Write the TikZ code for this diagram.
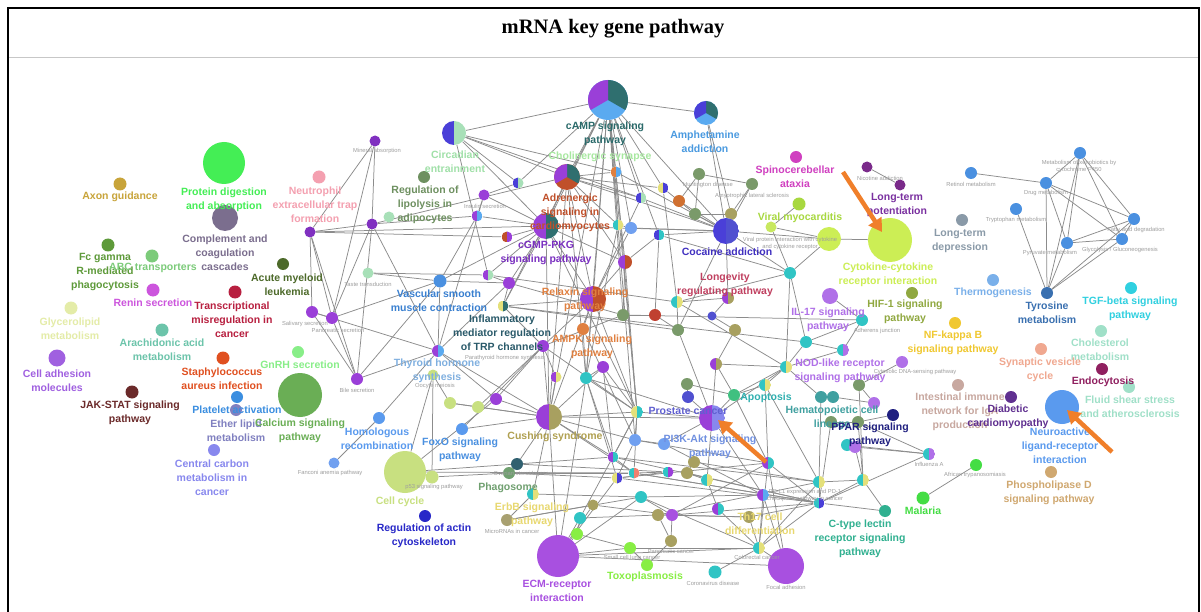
\documentclass[tikz,border=0pt]{standalone}
\usepackage{fontspec}
\setmainfont{Liberation Sans}
\newfontfamily\titlefont{Liberation Serif}
\usetikzlibrary{arrows.meta}
\pgfdeclarelayer{bg}
\pgfsetlayers{bg,main}
% pie colours
\definecolor{pu}{HTML}{9A3FD8}
\definecolor{te}{HTML}{2F6F6F}
\definecolor{lb}{HTML}{5AAAF0}
\definecolor{bl}{HTML}{4A3FD8}
\definecolor{lg}{HTML}{A8E0B8}
\definecolor{br}{HTML}{C0502A}
\definecolor{ol}{HTML}{A8A060}
\definecolor{sg}{HTML}{7A9A6A}
\definecolor{cy}{HTML}{30C4C4}
\definecolor{yl}{HTML}{E4E07A}
\definecolor{yg}{HTML}{C8E860}
\definecolor{lil}{HTML}{B070E8}
\definecolor{arrowc}{HTML}{F07F2A}
% label colours
\definecolor{kAxon}{HTML}{C8A43A}
\definecolor{kProt}{HTML}{44EE55}
\definecolor{kCompl}{HTML}{7B6E8E}
\definecolor{kFcg}{HTML}{5E9A3A}
\definecolor{kAbc}{HTML}{7CCB7A}
\definecolor{kRenin}{HTML}{CC55DD}
\definecolor{kTransc}{HTML}{B82040}
\definecolor{kAml}{HTML}{4D6A2A}
\definecolor{kGlyc}{HTML}{E4ECA8}
\definecolor{kArach}{HTML}{6CC4AA}
\definecolor{kCell}{HTML}{A060E0}
\definecolor{kStaph}{HTML}{E05020}
\definecolor{kGnrh}{HTML}{88EE88}
\definecolor{kJak}{HTML}{6B2A2A}
\definecolor{kPlat}{HTML}{3B8EE0}
\definecolor{kEther}{HTML}{8080C0}
\definecolor{kCalc}{HTML}{6AAE55}
\definecolor{kCcarb}{HTML}{8888EE}
\definecolor{kNeut}{HTML}{F4A0B0}
\definecolor{kCirc}{HTML}{A0E0A8}
\definecolor{kLipol}{HTML}{6E9060}
\definecolor{kCamp}{HTML}{2A6A6A}
\definecolor{kChsyn}{HTML}{A8E8A0}
\definecolor{kAmph}{HTML}{4A9AE0}
\definecolor{kAdren}{HTML}{C0502A}
\definecolor{kCgmp}{HTML}{7A30C0}
\definecolor{kSpino}{HTML}{D040C0}
\definecolor{kLtp}{HTML}{7A30A0}
\definecolor{kViral}{HTML}{A8D840}
\definecolor{kCoca}{HTML}{4030C0}
\definecolor{kLtd}{HTML}{8A9AA8}
\definecolor{kCyto}{HTML}{CCEE55}
\definecolor{kLongev}{HTML}{C04060}
\definecolor{kRelax}{HTML}{E08040}
\definecolor{kVasc}{HTML}{3A80D0}
\definecolor{kInfl}{HTML}{2A5A6A}
\definecolor{kThyr}{HTML}{80B0E0}
\definecolor{kHif}{HTML}{90A840}
\definecolor{kThermo}{HTML}{7AB0EA}
\definecolor{kTyro}{HTML}{3A70B0}
\definecolor{kTgf}{HTML}{30D0E0}
\definecolor{kNfkb}{HTML}{F0C830}
\definecolor{kCholm}{HTML}{A0E0C8}
\definecolor{kSynv}{HTML}{F0A890}
\definecolor{kEndo}{HTML}{902060}
\definecolor{kApop}{HTML}{30B0B0}
\definecolor{kApopN}{HTML}{40C080}
\definecolor{kHema}{HTML}{40A0A0}
\definecolor{kPpar}{HTML}{202080}
\definecolor{kIntest}{HTML}{C8A8A0}
\definecolor{kDiab}{HTML}{603090}
\definecolor{kNeuro}{HTML}{5A9AEE}
\definecolor{kPros}{HTML}{6060D0}
\definecolor{kPi3k}{HTML}{7090E0}
\definecolor{kFoxo}{HTML}{4A90E0}
\definecolor{kCush}{HTML}{B0A050}
\definecolor{kCcyc}{HTML}{C8E080}
\definecolor{kActin}{HTML}{2828C8}
\definecolor{kPhag}{HTML}{70A070}
\definecolor{kErbb}{HTML}{E8D870}
\definecolor{kErbbN}{HTML}{A8A070}
\definecolor{kEcm}{HTML}{A850E0}
\definecolor{kToxo}{HTML}{88EE44}
\definecolor{kCtype}{HTML}{30B090}
\definecolor{kMal}{HTML}{44DD44}
\definecolor{kPld}{HTML}{D0A870}
\definecolor{kXeno}{HTML}{4A90E0}
\definecolor{kBlue2}{HTML}{5050D0}
\definecolor{kLblue2}{HTML}{70A0F0}
\definecolor{kDteal}{HTML}{306070}
\definecolor{kRust}{HTML}{C04030}
\definecolor{kOrg}{HTML}{D07030}
\definecolor{kPink}{HTML}{F08070}
\definecolor{kDpur}{HTML}{7A2A8A}
\definecolor{kMpur}{HTML}{8030C0}
\tikzset{
  nd/.style={circle, inner sep=0pt, minimum size=11pt, fill=#1},
  pieLR/.style 2 args={path picture={
      \fill[#1] (path picture bounding box.south west) rectangle (path picture bounding box.north);
      \fill[#2] (path picture bounding box.south east) rectangle (path picture bounding box.north);}},
  pieT/.style n args={3}{path picture={
      \fill[#1] (path picture bounding box.center) circle (30pt);
      \fill[#2] (path picture bounding box.center) -- +(-30:40pt) -- +(30:40pt) -- +(90:40pt) -- cycle;
      \fill[#3] (path picture bounding box.center) -- +(90:40pt) -- +(150:40pt) -- +(210:40pt) -- cycle;}},
  lab/.style={font=\bfseries\fontsize{10.5}{14}\selectfont, align=center, inner sep=0pt},
  sl/.style={font=\fontsize{5.8}{7}\selectfont, text=black!38, align=center, inner sep=0pt},
  lnk/.style={draw=black!45, line width=0.75pt},
  hl/.style={draw=arrowc, line width=4.5pt, -{Triangle[length=13pt,width=15pt]}},
}
\begin{document}
\begin{tikzpicture}[x=1pt,y=-1pt]
\useasboundingbox (0,0) rectangle (1201,612);
\begin{pgfonlayer}{bg}
\fill[white] (0,0) rectangle (1201,612);
\end{pgfonlayer}
% frame and title
\draw[line width=2pt] (8,625) -- (8,8) -- (1199,8) -- (1199,625);
\draw[black!22, line width=0.8pt] (9,57) -- (1198,57);
\node[font=\titlefont\bfseries\fontsize{20.5}{24}\selectfont] (title) at (613,29) {mRNA key gene pathway};

% ---------------- nodes: left ----------------
\node[nd=kAxon, minimum size=13pt] (axon) at (120,184) {};
\node[nd=kProt, minimum size=42pt] (prot) at (224,163) {};
\node[nd=kCompl, minimum size=26pt] (compl) at (225,218) {};
\node[nd=kFcg, minimum size=13pt] (fcg) at (108,245) {};
\node[nd=kAbc, minimum size=13pt] (abc) at (152,256) {};
\node[nd=kRenin, minimum size=13pt] (renin) at (153,290) {};
\node[nd=kTransc, minimum size=13pt] (transc) at (235,292) {};
\node[nd=kAml, minimum size=12pt] (aml) at (283,264) {};
\node[nd=kGlyc, minimum size=13pt] (glyc) at (71,308) {};
\node[nd=kArach, minimum size=13pt] (arach) at (162,330) {};
\node[nd=kCell, minimum size=17pt] (celladh) at (57,358) {};
\node[nd=kStaph, minimum size=13pt] (staph) at (223,358) {};
\node[nd=kGnrh, minimum size=12pt] (gnrh) at (298,352) {};
\node[nd=kJak, minimum size=13pt] (jak) at (132,392) {};
\node[nd=kPlat, minimum size=12pt] (plat) at (237,397) {};
\node[nd=kEther, minimum size=12pt] (ether) at (236,410) {};
\node[nd=kCalc, minimum size=44pt] (calc) at (300,395) {};
\node[nd=kCcarb, minimum size=12pt] (ccarb) at (214,450) {};

% ---------------- nodes: upper left network ----------------
\node[nd=kNeut, minimum size=13pt] (neut) at (319,177) {};
\node[nd=kMpur] (mineral) at (375,141) {};
\node[nd=white, minimum size=24pt, pieLR={bl}{lg}] (circ) at (454,133) {};
\node[nd=kLipol, minimum size=12pt] (lipol) at (424,177) {};
\node[nd=lg] (b5) at (389,217) {};
\node[nd=kMpur] (b6) at (310,232) {};
\node[nd=kMpur] (b7) at (372,224) {};

% ---------------- nodes: top centre ----------------
\node[nd=white, minimum size=40pt, pieT={lb}{te}{pu}] (camp) at (608,100) {};
\node[nd=white, minimum size=24pt, pieT={lb}{te}{bl}] (amph) at (706,113) {};
\node[nd=white, minimum size=26pt, pieT={br}{te}{pu}] (adren) at (567,177) {};
\node[nd=white, minimum size=26pt, pieLR={pu}{te}] (cgmp) at (546,226) {};
\node[nd=white, pieLR={bl}{lg}] (c5) at (518,183) {};
\node[nd=pu] (c6) at (484,195) {};
\node[nd=white, pieLR={pu}{lb}] (c7) at (477,216) {};
\node[nd=white, pieLR={br}{pu}] (c8) at (507,237) {};
\node[nd=white, pieLR={kRelax}{lb}] (c9) at (616,172) {};
\node[nd=white, pieLR={bl}{lg}] (c10) at (641,198) {};
\node[nd=white, pieLR={yl}{bl}] (c11) at (663,188) {};
\node[nd=kOrg, minimum size=12pt] (c12) at (679,201) {};
\node[nd=sg, minimum size=12pt] (hunt) at (699,174) {};
\node[nd=sg, minimum size=12pt] (als) at (752,184) {};
\node[nd=sg, minimum size=12pt] (c15) at (695,214) {};
\node[nd=ol, minimum size=12pt] (c16) at (731,214) {};
\node[nd=white, minimum size=26pt, pieLR={bl}{kBlue2}] (coca) at (726,231) {};
\node[nd=kLblue2, minimum size=12pt] (c18) at (631,228) {};
\node[nd=white, pieLR={cy}{yl}] (c19) at (618,225) {};
\node[nd=white, pieLR={bl}{cy}] (c20) at (659,235) {};
\node[nd=yg] (c21) at (771,227) {};
\node[nd=kViral, minimum size=13pt] (viral) at (799,204) {};
\node[nd=kCyto, minimum size=24pt] (c23) at (829,239) {};
\node[nd=kCyto, minimum size=44pt] (cyto) at (890,240) {};
\node[nd=kSpino, minimum size=12pt] (spino) at (796,157) {};
\node[nd=kDpur] (nic) at (867,167) {};
\node[nd=kDpur] (ltp) at (900,185) {};

% ---------------- nodes: middle ----------------
\node[nd=white, minimum size=14pt, pieLR={pu}{br}] (c29) at (625,262) {};
\node[nd=white, minimum size=26pt, pieLR={pu}{br}] (relax) at (593,299) {};
\node[nd=kRelax, minimum size=12pt] (ampk) at (583,329) {};
\node[nd=white, pieLR={pu}{lg}] (c32) at (488,275) {};
\node[nd=pu, minimum size=12pt] (c33) at (509,283) {};
\node[nd=white, pieLR={yl}{te}] (c34) at (503,306) {};
\node[nd=pu, minimum size=12pt] (c35) at (543,346) {};
\node[nd=kFoxo, minimum size=13pt] (vasc) at (440,281) {};
\node[nd=white, minimum size=12pt, pieLR={pu}{lb}] (thyr) at (438,351) {};
\node[nd=kCcyc] (c38) at (433,375) {};
\node[nd=lg] (taste) at (368,273) {};
\node[nd=pu, minimum size=12pt] (saliv) at (312,312) {};
\node[nd=pu, minimum size=12pt] (panc) at (332,318) {};
\node[nd=pu, minimum size=12pt] (bile) at (357,379) {};
\node[nd=kCcyc, minimum size=12pt] (c43) at (450,403) {};
\node[nd=kCcyc, minimum size=12pt] (c44) at (478,407) {};
\node[nd=pu, minimum size=12pt] (c45) at (496,399) {};
\node[nd=white, minimum size=26pt, pieLR={pu}{ol}] (cush) at (549,417) {};
\node[nd=cy, minimum size=12pt] (c47) at (586,378) {};
\node[nd=white, pieLR={pu}{yl}] (c48) at (556,377) {};
\node[nd=kNeuro, minimum size=12pt] (homol) at (379,418) {};
\node[nd=kNeuro, minimum size=12pt] (foxo) at (462,429) {};
\node[nd=kCcyc, minimum size=42pt] (ccyc) at (405,472) {};
\node[nd=kCcyc, minimum size=13pt] (p53) at (432,477) {};
\node[nd=kLblue2] (fanc) at (334,463) {};
\node[nd=kActin, minimum size=12pt] (actin) at (425,516) {};
\node[nd=kPhag, minimum size=12pt] (phag) at (509,473) {};
\node[nd=kDteal, minimum size=12pt] (c56) at (517,464) {};
\node[nd=white, minimum size=12pt, pieLR={cy}{yl}] (c57) at (533,494) {};
\node[nd=kErbbN, minimum size=12pt] (erbb) at (507,520) {};
\node[nd=cy, minimum size=12pt] (c59) at (580,518) {};
\node[nd=kToxo, minimum size=12pt] (c60) at (577,534) {};
\node[nd=ol] (c61) at (593,505) {};
\node[nd=kEcm, minimum size=42pt] (ecm) at (558,556) {};

% ---------------- nodes: lower centre ----------------
\node[nd=kToxo, minimum size=12pt] (toxo) at (647,565) {};
\node[nd=kToxo, minimum size=12pt] (c64) at (630,548) {};
\node[nd=cy, minimum size=13pt] (corona) at (715,572) {};
\node[nd=kEcm, minimum size=36pt] (focal) at (786,566) {};
\node[nd=white, minimum size=12pt, pieLR={cy}{yl}] (colo) at (759,548) {};
\node[nd=ol, minimum size=12pt] (pancc) at (671,541) {};
\node[nd=cy, minimum size=12pt] (c69) at (641,497) {};
\node[nd=kEcm, minimum size=12pt] (c70) at (672,515) {};
\node[nd=ol, minimum size=12pt] (c71) at (658,515) {};
\node[nd=ol, minimum size=12pt] (c72) at (749,517) {};
\node[nd=white, minimum size=12pt, pieLR={pu}{cy}] (c73) at (718,509) {};
\node[nd=ol, minimum size=12pt] (c74) at (694,462) {};
\node[nd=ol, minimum size=12pt] (c75) at (687,473) {};
\node[nd=white, minimum size=12pt, pieLR={cy}{yl}] (c76) at (707,480) {};
\node[nd=white, minimum size=12pt, pieLR={pu}{cy}] (c77) at (768,463) {};
\node[nd=white, minimum size=12pt, pieLR={pu}{lb}] (c78) at (763,495) {};
\node[nd=white, pieLR={cy}{bl}] (c79) at (819,503) {};
\node[nd=white, minimum size=12pt, pieLR={cy}{yl}] (c80) at (819,482) {};
\node[nd=white, minimum size=12pt, pieLR={cy}{yl}] (c81) at (863,480) {};
\node[nd=kCtype, minimum size=12pt] (ctype) at (885,511) {};
\node[nd=white, minimum size=26pt, pieLR={pu}{kCcarb}] (pros) at (712,418) {};
\node[nd=white, minimum size=12pt, pieLR={yl}{cy}] (c84) at (637,412) {};
\node[nd=kBlue2, minimum size=12pt] (c85) at (688,397) {};
\node[nd=kLblue2, minimum size=12pt] (c86) at (635,440) {};
\node[nd=kLblue2, minimum size=12pt] (c87) at (664,444) {};
\node[nd=white, pieLR={pu}{cy}] (c88) at (613,457) {};
\node[nd=white, pieLR={cy}{kPink}] (c89) at (634,473) {};
\node[nd=white, pieLR={cy}{pu}] (c90) at (668,472) {};
\node[nd=white, pieLR={yl}{bl}] (c91) at (617,478) {};

% ---------------- nodes: right middle ----------------
\node[nd=cy, minimum size=12pt] (d1) at (790,273) {};
\node[nd=lil, minimum size=16pt] (il17) at (830,296) {};
\node[nd=cy, minimum size=12pt] (d3) at (862,320) {};
\node[nd=cy, minimum size=12pt] (d4) at (806,342) {};
\node[nd=white, minimum size=12pt, pieLR={cy}{lil}] (d5) at (843,350) {};
\node[nd=white, minimum size=12pt, pieLR={cy}{yl}] (nod) at (786,367) {};
\node[nd=kApopN, minimum size=12pt] (apop) at (734,395) {};
\node[nd=white, minimum size=12pt, pieLR={cy}{yl}] (d8) at (765,385) {};
\node[nd=sg, minimum size=12pt] (d9) at (687,384) {};
\node[nd=white, minimum size=12pt, pieLR={pu}{ol}] (d10) at (716,364) {};
\node[nd=ol, minimum size=12pt] (d11) at (735,330) {};
\node[nd=sg, minimum size=12pt] (d12) at (678,330) {};
\node[nd=kRust, minimum size=12pt] (d13) at (655,315) {};
\node[nd=sg, minimum size=12pt] (d14) at (623,315) {};
\node[nd=white, minimum size=12pt, pieLR={cy}{yl}] (d15) at (677,302) {};
\node[nd=white, minimum size=12pt, pieLR={pu}{ol}] (d16) at (728,298) {};
\node[nd=kBlue2, minimum size=9pt] (d17) at (712,316) {};
\node[nd=pu, minimum size=12pt] (d18) at (603,367) {};
\node[nd=lil, minimum size=12pt] (d19) at (874,403) {};
\node[nd=kHema, minimum size=12pt] (d20) at (821,397) {};
\node[nd=kHema, minimum size=12pt] (d20b) at (833,397) {};
\node[nd=sg, minimum size=12pt] (d21) at (859,385) {};
\node[nd=lil, minimum size=12pt] (d22) at (902,362) {};
\node[nd=sg, minimum size=12pt] (d23) at (831,422) {};
\node[nd=sg, minimum size=12pt] (d24) at (858,422) {};
\node[nd=cy, minimum size=12pt] (d25) at (847,445) {};
\node[nd=lil, minimum size=12pt] (d26) at (855,447) {};
\node[nd=kPpar, minimum size=12pt] (ppar) at (893,415) {};
\node[nd=white, minimum size=12pt, pieLR={cy}{lil}] (infl) at (929,454) {};
\node[nd=kMal, minimum size=12pt] (afr) at (976,465) {};
\node[nd=kMal, minimum size=13pt] (mal) at (923,498) {};

% ---------------- nodes: right ----------------
\node[nd=kXeno, minimum size=12pt] (xeno) at (1080,153) {};
\node[nd=kXeno, minimum size=12pt] (retinol) at (971,173) {};
\node[nd=kXeno, minimum size=12pt] (drug) at (1046,183) {};
\node[nd=kXeno, minimum size=12pt] (tryp) at (1016,209) {};
\node[nd=kXeno, minimum size=12pt] (fatty) at (1134,219) {};
\node[nd=kXeno, minimum size=12pt] (glyco) at (1122,239) {};
\node[nd=kXeno, minimum size=12pt] (pyr) at (1067,243) {};
\node[nd=kTyro, minimum size=12pt] (tyro) at (1047,293) {};
\node[nd=kLtd, minimum size=12pt] (ltd) at (962,220) {};
\node[nd=kThermo, minimum size=12pt] (thermo) at (993,280) {};
\node[nd=kTgf, minimum size=12pt] (tgf) at (1131,288) {};
\node[nd=kHif, minimum size=12pt] (hif) at (912,293) {};
\node[nd=kNfkb, minimum size=12pt] (nfkb) at (955,323) {};
\node[nd=kCholm, minimum size=12pt] (chol) at (1101,331) {};
\node[nd=kSynv, minimum size=12pt] (synv) at (1041,349) {};
\node[nd=kEndo, minimum size=12pt] (endo) at (1102,369) {};
\node[nd=kIntest, minimum size=12pt] (intest) at (958,385) {};
\node[nd=kDiab, minimum size=12pt] (diab) at (1011,397) {};
\node[nd=kNeuro, minimum size=34pt] (neuro) at (1062,407) {};
\node[nd=kCholm, minimum size=12pt] (fluid) at (1129,387) {};
\node[nd=kPld, minimum size=12pt] (pld) at (1051,472) {};

% ---------------- edges ----------------
\begin{pgfonlayer}{bg}
\foreach \a/\b in {mineral/b6, mineral/b7, mineral/panc, b6/b7, b6/saliv, b6/panc, b6/bile, b7/panc, b7/bile, b7/thyr,
  b6/c8, b6/cgmp, b7/c7, b7/adren, saliv/panc, saliv/bile, saliv/thyr, panc/bile, panc/vasc, bile/vasc, bile/thyr,
  taste/c32, taste/vasc, circ/camp, circ/adren, circ/c5, circ/c9, circ/cgmp, circ/c32, circ/c10,
  c5/c6, c5/camp, c6/c7, c6/cgmp, c7/cgmp, c8/cgmp, c7/vasc, c6/thyr,
  camp/amph, camp/adren, camp/cgmp, camp/c9, camp/c10, camp/c11, camp/c18, camp/coca, camp/c29, camp/relax,
  camp/c20, camp/c34, camp/cush, camp/c84, camp/c19, amph/coca, amph/c16,
  adren/cgmp, adren/c9, adren/c10, adren/c11, adren/coca, adren/c29, adren/relax, adren/cush, adren/c19,
  cgmp/c32, cgmp/c33, cgmp/relax, cgmp/coca, cgmp/cush, cgmp/vasc, cgmp/c29, cgmp/c34,
  hunt/als, hunt/c15, hunt/c12, als/c16, als/coca, c15/c16, c15/coca, c16/coca, c12/coca, c11/c15, c10/coca,
  c9/coca, c18/coca, c19/c18, c20/coca, c20/c29, coca/c23, c21/c23, c23/cyto, c21/d1, coca/d1, nic/ltp,
  d1/d4, d1/c20, d1/d15, d1/nod, il17/d3, d3/d4, d3/d5, d4/d5, d4/nod, d5/nod, nod/apop, nod/d8, nod/d10,
  nod/d15, nod/pros, vasc/thyr, vasc/c33, thyr/c33, thyr/c45, thyr/cush, thyr/homol, c33/c34, c32/c33,
  c34/c35, c34/relax, c38/ccyc, c38/p53, c38/c43, c43/c44, c43/cush, c44/cush, c45/cush, c44/c35, c45/c35,
  c35/cush, c35/relax, homol/fanc, foxo/cush, foxo/c35, ccyc/p53, ccyc/c56, ccyc/c45, p53/phag,
  phag/c56, c56/cush, c57/cush, c57/erbb, erbb/c61, c56/c88, c59/c60, c60/ecm, c61/ecm, c59/ecm, ecm/c64,
  ecm/focal, ecm/colo, ecm/c47, ecm/cush, c59/c84, toxo/c64, toxo/pancc, c64/colo, corona/colo, focal/colo,
  focal/c77, focal/c78, colo/c77, colo/c78, colo/c73, colo/c72, colo/c79, colo/c80, colo/c69,
  pancc/c70, pancc/c71, c69/c70, c70/c72, c71/c72, c73/c76, c74/c75, c75/c76, c76/pros, c77/pros, c78/pros,
  c77/c79, c79/c80, c79/c81, c80/c81, c81/ctype, c79/ctype, c79/infl, c79/c88, c79/c91, c79/c70, c79/c72,
  c79/c89, pros/c85, pros/c84, pros/apop, pros/d10, pros/cush, pros/c47, pros/d12, pros/c87,
  c84/c88, c84/c89, c84/cush, c84/c47, c84/relax, c84/c86, c85/d9, c86/c87, c88/c89, c89/c90, c90/c91,
  c91/c86, relax/c29, relax/ampk, relax/c47, ampk/c47, c29/d14, d14/d13, d13/d12, d12/d15, d15/d16,
  d16/d17, d17/d11, d11/d10, d10/apop, d9/apop, d8/apop, d8/c77, d18/c47, d18/c84, d18/cush,
  d20/d20b, d20/nod, d21/d19, d23/d24, d25/d26, d25/infl, d26/infl, infl/d24, afr/mal,
  d3/d14, d4/c34, d22/d21, d19/d20b, ccyc/c89, c56/c90, phag/c91, c48/cush, c48/c35,
  camp/c86, camp/c47, camp/d14, adren/c47, cgmp/c84, c9/c84, c10/relax, c11/d15, c18/relax, coca/d16,
  coca/d12, c20/d13, c19/c47, c29/c84, relax/cush, c33/d14, c34/d12, c32/d15, c35/c84, c35/d14,
  cush/c88, cush/c89, cush/c86, c47/c88, c47/c91, d18/c88, ampk/c86, c86/c77, c87/c78, c88/c80,
  c89/c79, c91/c77, c69/c78, c71/c80, c70/c77, c75/c79, c74/c80, erbb/c69, c57/c69, c61/c70, c59/c71,
  c60/c64, ecm/c69, ecm/c91, phag/c89, apop/c77, d8/c80, d23/c79, d24/c81, d20/c80, d21/c81, ppar/d24,
  d26/c81, c23/d1, viral/c21,
  retinol/drug, drug/xeno, drug/fatty, drug/glyco, drug/pyr, drug/tyro, xeno/pyr, xeno/fatty, xeno/glyco,
  xeno/tyro, pyr/glyco, pyr/fatty, glyco/fatty, tryp/tyro, pyr/tyro, fatty/tyro, glyco/tyro}
  \draw[lnk] (\a) -- (\b);
\end{pgfonlayer}

% ---------------- small grey labels ----------------
\node[sl] (s1) at (377,151) {Mineral absorption};
\node[sl] (s2) at (485,206) {Insulin secretion};
\node[sl] (s3) at (368,284) {Taste transduction};
\node[sl] (s4) at (305,324) {Salivary secretion};
\node[sl] (s5) at (338,330) {Pancreatic secretion};
\node[sl] (s6) at (357,390) {Bile secretion};
\node[sl] (s7) at (435,386) {Oocyte meiosis};
\node[sl] (s8) at (330,473) {Fanconi anemia pathway};
\node[sl] (s9) at (434,487) {p53 signaling pathway};
\node[sl] (s10) at (512,531) {MicroRNAs in cancer};
\node[sl] (s11) at (671,551) {Pancreatic cancer};
\node[sl] (s12) at (757,557) {Colorectal cancer};
\node[sl] (s13) at (713,583) {Coronavirus disease};
\node[sl] (s14) at (786,587) {Focal adhesion};
\node[sl] (s15) at (632,558) {Small cell lung cancer};
\node[sl] (s16) at (929,464) {Influenza A};
\node[sl] (s17) at (975,475) {African trypanosomiasis};
\node[sl] (s18) at (971,184) {Retinol metabolism};
\node[sl] (s19) at (1046,193) {Drug metabolism};
\node[sl] (s20) at (1016,220) {Tryptophan metabolism};
\node[sl] (s21) at (1136,230) {Fatty acid degradation};
\node[sl] (s22) at (1120,250) {Glycolysis / Gluconeogenesis};
\node[sl] (s23) at (1050,253) {Pyruvate metabolism};
\node[sl] (s24) at (1079,167) {Metabolism of xenobiotics by\\cytochrome P450};
\node[sl] (s25) at (880,178) {Nicotine addiction};
\node[sl] (s26) at (708,185) {Huntington disease};
\node[sl] (s27) at (752,196) {Amyotrophic lateral sclerosis};
\node[sl] (s28) at (877,331) {Adherens junction};
\node[sl] (s29) at (915,372) {Cytosolic DNA-sensing pathway};
\node[sl] (s30) at (525,474) {Ovarian steroidogenesis};
\node[sl] (s31) at (805,495) {PD-L1 expression and PD-1\\checkpoint pathway in cancer};
\node[sl] (s32) at (790,244) {Viral protein interaction with cytokine\\and cytokine receptor};
\node[sl] (s33) at (505,358) {Parathyroid hormone synthesis};

% ---------------- main labels ----------------
\node[lab, text=kAxon] (Laxon) at (120,197) {Axon guidance};
\node[lab, text=kProt] (Lprot) at (224,200) {Protein digestion\\and absorption};
\node[lab, text=kCompl] (Lcompl) at (225,252.5) {Complement and\\coagulation\\cascades};
\node[lab, text=kFcg] (Lfcg) at (105,272) {Fc gamma\\R-mediated\\phagocytosis};
\node[lab, text=kAbc] (Labc) at (153,268) {ABC transporters};
\node[lab, text=kRenin] (Lrenin) at (153,303) {Renin secretion};
\node[lab, text=kTransc] (Ltransc) at (232,320) {Transcriptional\\misregulation in\\cancer};
\node[lab, text=kAml] (Laml) at (287,285) {Acute myeloid\\leukemia};
\node[lab, text=kGlyc] (Lglyc) at (70,328.5) {Glycerolipid\\metabolism};
\node[lab, text=kArach] (Larach) at (162,350) {Arachidonic acid\\metabolism};
\node[lab, text=kCell] (Lcell) at (57,381) {Cell adhesion\\molecules};
\node[lab, text=kStaph] (Lstaph) at (222,379) {Staphylococcus\\aureus infection};
\node[lab, text=kGnrh] (Lgnrh) at (300,365) {GnRH secretion};
\node[lab, text=kJak] (Ljak) at (130,413) {JAK-STAT signaling\\pathway};
\node[lab, text=kPlat] (Lplat) at (237,410) {Platelet activation};
\node[lab, text=kEther] (Lether) at (236,431) {Ether lipid\\metabolism};
\node[lab, text=kCalc] (Lcalc) at (300,431) {Calcium signaling\\pathway};
\node[lab, text=kCcarb] (Lccarb) at (212,478) {Central carbon\\metabolism in\\cancer};
\node[lab, text=kNeut] (Lneut) at (315,205) {Neutrophil\\extracellular trap\\formation};
\node[lab, text=kCirc] (Lcirc) at (455,162) {Circadian\\entrainment};
\node[lab, text=kLipol] (Llipol) at (425,205) {Regulation of\\lipolysis in\\adipocytes};
\node[lab, text=kCamp] (Lcamp) at (605,134) {cAMP signaling\\pathway};
\node[lab, text=kChsyn] (Lchsyn) at (600,157) {Cholinergic synapse};
\node[lab, text=kAmph] (Lamph) at (705,142) {Amphetamine\\addiction};
\node[lab, text=kAdren] (Ladren) at (570,213) {Adrenergic\\signaling in\\cardiomyocytes};
\node[lab, text=kCgmp] (Lcgmp) at (546,253) {cGMP-PKG\\signaling pathway};
\node[lab, text=kSpino] (Lspino) at (795,177) {Spinocerebellar\\ataxia};
\node[lab, text=kLtp] (Lltp) at (897,205) {Long-term\\potentiation};
\node[lab, text=kViral] (Lviral) at (800,218) {Viral myocarditis};
\node[lab, text=kCoca] (Lcoca) at (727,252) {Cocaine addiction};
\node[lab, text=kLtd] (Lltd) at (960,241) {Long-term\\depression};
\node[lab, text=kCyto] (Lcyto) at (888,275) {Cytokine-cytokine\\receptor interaction};
\node[lab, text=kLongev] (Llongev) at (725,285) {Longevity\\regulating pathway};
\node[lab, text=kRelax] (Lrelax) at (585,300) {Relaxin signaling\\pathway};
\node[lab, text=kVasc] (Lvasc) at (439,301) {Vascular smooth\\muscle contraction};
\node[lab, text=kInfl] (Linfl) at (502,333) {Inflammatory\\mediator regulation\\of TRP channels};
\node[lab, text=kRelax] (Lampk) at (592,347) {AMPK signaling\\pathway};
\node[lab, text=kThyr] (Lthyr) at (437,371) {Thyroid hormone\\synthesis};
\node[lab, text=lil] (Lil17) at (828,320) {IL-17 signaling\\pathway};
\node[lab, text=kHif] (Lhif) at (905,312) {HIF-1 signaling\\pathway};
\node[lab, text=kThermo] (Lthermo) at (993,293) {Thermogenesis};
\node[lab, text=kTyro] (Ltyro) at (1047,313) {Tyrosine\\metabolism};
\node[lab, text=kTgf] (Ltgf) at (1130,309) {TGF-beta signaling\\pathway};
\node[lab, text=kNfkb] (Lnfkb) at (953,343) {NF-kappa B\\signaling pathway};
\node[lab, text=kCholm] (Lchol) at (1100,350) {Cholesterol\\metabolism};
\node[lab, text=kSynv] (Lsynv) at (1040,370) {Synaptic vesicle\\cycle};
\node[lab, text=kEndo] (Lendo) at (1103,382) {Endocytosis};
\node[lab, text=lil] (Lnod) at (840,371) {NOD-like receptor\\signaling pathway};
\node[lab, text=kApop] (Lapop) at (766,398) {Apoptosis};
\node[lab, text=kHema] (Lhema) at (832,418) {Hematopoietic cell\\lineage};
\node[lab, text=kPpar] (Lppar) at (870,435) {PPAR signaling\\pathway};
\node[lab, text=kIntest] (Lintest) at (960,412) {Intestinal immune\\network for IgA\\production};
\node[lab, text=kDiab] (Ldiab) at (1008,417) {Diabetic\\cardiomyopathy};
\node[lab, text=kCholm] (Lfluid) at (1130,407) {Fluid shear stress\\and atherosclerosis};
\node[lab, text=kNeuro] (Lneuro) at (1060,446) {Neuroactive\\ligand-receptor\\interaction};
\node[lab, text=kPros] (Lpros) at (688,411) {Prostate cancer};
\node[lab, text=kPi3k] (Lpi3k) at (710,447) {PI3K-Akt signaling\\pathway};
\node[lab, text=kNeuro] (Lhomol) at (377,439) {Homologous\\recombination};
\node[lab, text=kFoxo] (Lfoxo) at (460,450) {FoxO signaling\\pathway};
\node[lab, text=kCush] (Lcush) at (555,437) {Cushing syndrome};
\node[lab, text=kCcyc] (Lccyc) at (400,502) {Cell cycle};
\node[lab, text=kActin] (Lactin) at (424,536) {Regulation of actin\\cytoskeleton};
\node[lab, text=kPhag] (Lphag) at (508,488) {Phagosome};
\node[lab, text=kErbb] (Lerbb) at (532,515) {ErbB signaling\\pathway};
\node[lab, text=kEcm] (Lecm) at (557,591) {ECM-receptor\\interaction};
\node[lab, text=kToxo] (Ltoxo) at (645,577) {Toxoplasmosis};
\node[lab, text=kErbb] (Lth17) at (760,524) {Th17 cell\\differentiation};
\node[lab, text=kCtype] (Lctype) at (860,539) {C-type lectin\\receptor signaling\\pathway};
\node[lab, text=kMal] (Lmal) at (923,511) {Malaria};
\node[lab, text=kPld] (Lpld) at (1049,493) {Phospholipase D\\signaling pathway};

% ---------------- highlight arrows ----------------
\coordinate (a1t) at (843,172);
\coordinate (a1h) at (882,232);
\coordinate (a2t) at (1112,452);
\coordinate (a2h) at (1067,410);
\coordinate (a3t) at (766,462);
\coordinate (a3h) at (718,420);
\draw[hl] (a1t) -- (a1h);
\draw[hl] (a2t) -- (a2h);
\draw[hl] (a3t) -- (a3h);
\end{tikzpicture}
\end{document}
